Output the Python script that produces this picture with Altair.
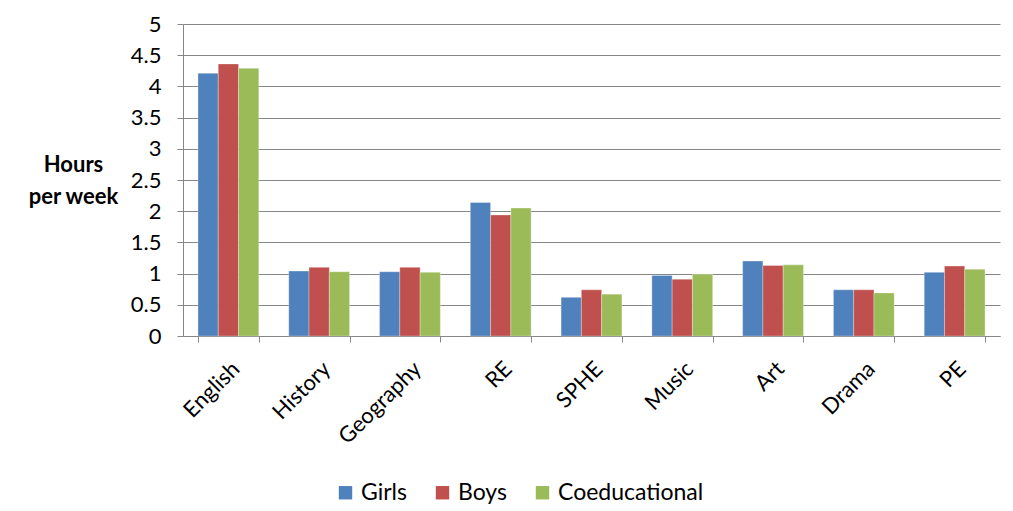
import altair as alt
import pandas as pd

subjects = ["English", "History", "Geography", "RE", "SPHE", "Music", "Art", "Drama", "PE"]
girls = [4.21, 1.04, 1.03, 2.14, 0.62, 0.97, 1.20, 0.74, 1.02]
boys = [4.36, 1.10, 1.10, 1.94, 0.74, 0.91, 1.13, 0.74, 1.12]
coed = [4.29, 1.03, 1.02, 2.05, 0.67, 0.99, 1.14, 0.69, 1.07]
series = ["Girls", "Boys", "Coeducational"]
colors = ["#4F81BD", "#C0504D", "#9BBB59"]

rows = []
for name, vals in zip(series, [girls, boys, coed]):
    for s, v in zip(subjects, vals):
        rows.append({"Subject": s, "Type": name, "Hours": v})
df = pd.DataFrame(rows)

FONT = "Lato"
chart = alt.Chart(df).mark_bar(stroke="white", strokeWidth=0.5, strokeOpacity=0.6).encode(
    x=alt.X("Subject:N", sort=subjects, title=None,
            scale=alt.Scale(paddingInner=0.33, paddingOuter=0.165),
            axis=alt.Axis(labelAngle=-45, labelFontSize=22, labelFont=FONT, labelColor="black",
                          tickBand="extent", domainColor="#868686", tickColor="#868686",
                          tickSize=6, labelPadding=16)),
    xOffset=alt.XOffset("Type:N", sort=series),
    y=alt.Y("Hours:Q", scale=alt.Scale(domain=[0, 5]),
            axis=alt.Axis(values=[0, 0.5, 1, 1.5, 2, 2.5, 3, 3.5, 4, 4.5, 5], format="~g",
                          labelFontSize=22, labelFont=FONT, labelColor="black",
                          gridColor="#868686", domainColor="#868686", tickColor="#868686",
                          tickSize=6, labelPadding=16,
                          title=["Hours", "per week"], titleAngle=0, titleFontSize=22,
                          titleFont=FONT, titleFontWeight="bold", titleColor="black",
                          titleX=-110, titleY=140, titleAlign="center", titleBaseline="middle",
                          titleLineHeight=32)),
    color=alt.Color("Type:N", sort=series,
                    scale=alt.Scale(domain=series, range=colors),
                    legend=alt.Legend(title=None, orient="none", direction="horizontal",
                                      legendX=151, legendY=457, symbolType="square",
                                      symbolSize=180, symbolStrokeWidth=0,
                                      labelFontSize=23, labelFont=FONT, labelColor="black",
                                      columnPadding=24, symbolOpacity=1)),
).properties(
    width=817, height=312,
    padding={"left": 175, "top": 16, "right": 5, "bottom": 174},
    autosize=alt.AutoSizeParams(type="none"),
).configure_view(stroke=None)

chart.save("out.html", embed_options={"renderer": "svg", "actions": False})
